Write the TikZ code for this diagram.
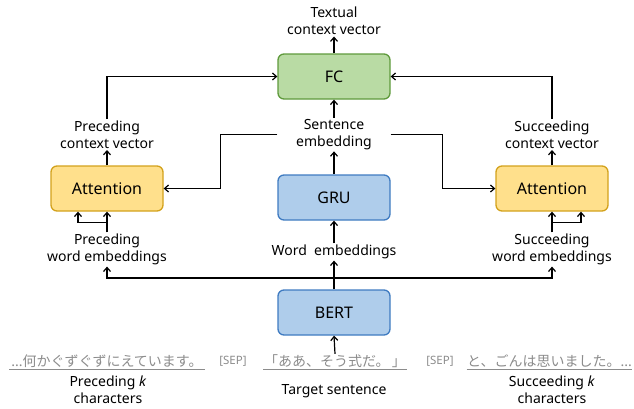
\documentclass[tikz,border=0pt]{standalone}
\usepackage{fontspec}
\setmainfont{Noto Sans}
\newfontfamily\jpfont{Noto Sans CJK JP}
\usepackage{xcolor}
\usetikzlibrary{arrows.meta}

\definecolor{fcfill}{HTML}{B9DBA4}
\definecolor{fcdraw}{HTML}{5F9A3C}
\definecolor{attfill}{HTML}{FFE08C}
\definecolor{attdraw}{HTML}{D3A21C}
\definecolor{encfill}{HTML}{AFCDEB}
\definecolor{encdraw}{HTML}{3F7BC1}
\definecolor{seqgray}{HTML}{8C8C8C}

\tikzset{
	block/.style = {draw, line width = 1.3pt, rounded corners = 6pt, minimum width = 112pt, minimum height = 45pt, font = \fontsize{16}{19}\selectfont},
	lbl/.style = {align = center, inner sep = 1pt, font = \fontsize{14}{17}\selectfont},
	seq/.style = {text = seqgray, inner sep = 0pt, font = \jpfont\fontsize{14}{16}\selectfont},
	sep/.style = {text = seqgray, inner sep = 0pt, font = \fontsize{11.5}{14}\selectfont},
}

\begin{document}
\begin{tikzpicture}[x = 1pt, y = -1pt, line width = 1.2pt, >={Straight Barb[length = 4pt, width = 7pt]}]
					\def\xL{107};
					\def\xM{334};
					\def\xR{552};
					\useasboundingbox (0,0) rectangle (634,408);

					\begin{scope}
						\node [block, fill = fcfill, draw = fcdraw] (fc) at (\xM,76.5) {FC};
						\node [block, fill = attfill, draw = attdraw] (attpre) at (\xL,188.5) {Attention};
						\node [block, fill = attfill, draw = attdraw] (attsuc) at (\xR,188.5) {Attention};
						\node [block, fill = encfill, draw = encdraw] (gru) at (\xM,197.5) {GRU};
						\node [block, fill = encfill, draw = encdraw] (bert) at (\xM,312.5) {BERT};
					\end{scope}

					\begin{scope}
						\node [lbl] (txtvec) at (\xM,21) {Textual\\context vector};
						\node [lbl, minimum width = 112pt] (sentemb) at (\xM,134.5) {Sentence\\embedding};
						\node [lbl] (precvec) at (\xL,134.5) {Preceding\\context vector};
						\node [lbl] (succvec) at (\xR,134.5) {Succeeding\\context vector};
						\node [lbl] (wordemb) at (\xM,252) {Word\ \ embeddings};
						\node [lbl] (preemb) at (\xL,249.5) {Preceding\\word embeddings};
						\node [lbl] (sucemb) at (\xR,249.5) {Succeeding\\word embeddings};
						\node [lbl] (prek) at (108,390) {Preceding \textit{k}\\characters};
						\node [lbl] (tgt) at (\xM,391) {Target sentence};
						\node [lbl] (suck) at (\xR,390) {Succeeding \textit{k}\\characters};
					\end{scope}

					\begin{scope}
						\node [seq, minimum width = 194pt] (preseq) at (107,361) {\textrm{...}何かぐずぐずにえています。};
						\node [sep] (sepl) at (233,361) {[SEP]};
						\node [seq, minimum width = 142pt] (tgtseq) at (335,361) {「ああ、そう式だ。\,」};
						\node [sep] (sepr) at (440,361) {[SEP]};
						\node [seq, minimum width = 161pt] (sucseq) at (549.5,361) {と、ごんは思いました。\textrm{...}};
						\foreach \s in {preseq, tgtseq, sucseq}
							\draw [seqgray, line width = 0.9pt] ([yshift = -1.5pt]\s.south west) -- ([yshift = -1.5pt]\s.south east);
					\end{scope}

					\begin{scope}[->]
						\draw (fc.north) -- (txtvec.south);
						\draw (sentemb.north) -- (fc.south);
						\draw (gru.north) -- (sentemb.south);
						\draw (precvec.north) |- (fc.west);
						\draw (succvec.north) |- (fc.east);
						\draw (sentemb.west) -- ++(-57,0) |- (attpre.east);
						\draw (sentemb.east) -- ++(52,0) |- (attsuc.west);
						\draw (attpre.north) -- (precvec.south);
						\draw (attsuc.north) -- (succvec.south);
						\draw (preemb.north) -- (attpre.south);
						\draw (sucemb.north) -- (attsuc.south);
						\draw ([yshift = -11pt]attpre.south) -| ([xshift = -29pt]attpre.south);
						\draw ([yshift = -11pt]attsuc.south) -| ([xshift = 29pt]attsuc.south);
						\draw (bert.north) -- (wordemb.south);
						\draw (wordemb.north) -- (gru.south);
						\coordinate (split) at (\xM,278);
						\draw (split) -| (preemb.south);
						\draw (split) -| (sucemb.south);
						\draw (tgtseq.north) -- (bert.south);
					\end{scope}
				\end{tikzpicture}
\end{document}
